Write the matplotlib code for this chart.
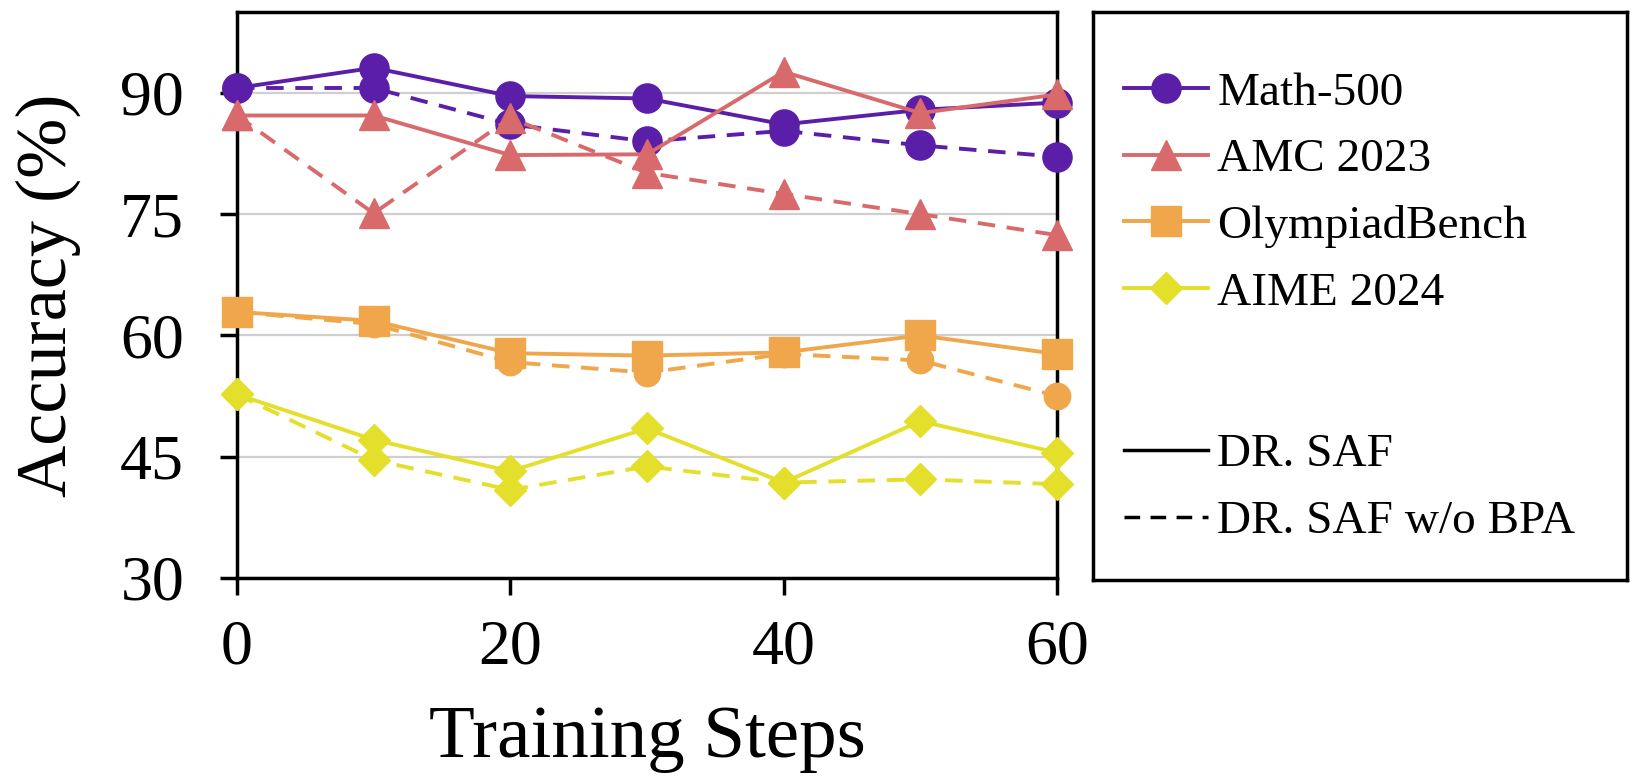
import matplotlib.pyplot as plt
from matplotlib.lines import Line2D

plt.rcParams['font.family'] = ['Liberation Serif', 'DejaVu Serif']

# Data
steps = [0, 10, 20, 30, 40, 50, 60]
datasets = ['Math-500', 'AMC 2023', 'OlympiadBench', 'AIME 2024']

math_saf = [90.6, 93.1, 89.6, 89.3, 86.1, 87.9, 88.8]
math_nobpa = [90.6, 90.6, 86.1, 84.0, 85.3, 83.5, 82.1]
amc_saf = [87.2, 87.2, 82.3, 82.4, 92.6, 87.5, 89.8]
amc_nobpa = [87.2, 75.1, 86.9, 80.1, 77.5, 75.0, 72.4]
olym_saf = [62.9, 61.8, 57.8, 57.5, 57.9, 60.0, 57.7]
olym_nobpa = [62.9, 61.4, 56.7, 55.4, 57.7, 56.9, 52.5]
aime_saf = [52.7, 47.1, 43.2, 48.5, 41.8, 49.4, 45.5]
aime_nobpa = [52.7, 44.6, 40.9, 43.8, 41.8, 42.2, 41.6]

saf = [math_saf, amc_saf, olym_saf, aime_saf]
nobpa = [math_nobpa, amc_nobpa, olym_nobpa, aime_nobpa]

colors = ['#5b1ea8', '#d86a6c', '#f0a64a', '#e3df2b']
markers = ['o', '^', 's', 'D']
marker_sizes = [21, 22, 21, 16]
nobpa_markers = ['o', '^', 'o', 'D']
nobpa_sizes = [21, 22, 19, 16]

fig = plt.figure(figsize=(16.32, 7.78), dpi=100)
ax = fig.add_axes([0.1452, 0.2571, 0.6477 - 0.1452, 0.9846 - 0.2571])

for i in range(len(datasets)):
    # dashed (w/o BPA) first, then solid on top
    ax.plot(steps, nobpa[i], color=colors[i], linestyle='--', dashes=(4.5, 3),
            linewidth=2.8, marker=nobpa_markers[i], markersize=nobpa_sizes[i],
            clip_on=False, zorder=3)
    ax.plot(steps, saf[i], color=colors[i], linestyle='-', linewidth=2.8,
            marker=markers[i], markersize=marker_sizes[i], clip_on=False, zorder=3)

ax.set_xlim(0, 60)
ax.set_ylim(30, 100)
ax.set_xticks([0, 20, 40, 60])
ax.set_yticks([30, 45, 60, 75, 90])
ax.grid(axis='y', color='#cfcfcf', linewidth=1.6)
ax.set_axisbelow(True)

for s in ax.spines.values():
    s.set_linewidth(2.5)
    s.set_color('black')

ax.tick_params(axis='both', direction='out', length=12, width=2.5, labelsize=46)
ax.tick_params(axis='x', pad=18)
ax.tick_params(axis='y', pad=26)

ax.set_xlabel('Training Steps', fontsize=54, labelpad=20)
ax.set_ylabel('Accuracy (%)', fontsize=52, labelpad=28)

# Legend in its own framed box
lax = fig.add_axes([1093 / 1632, 1 - 580 / 778, (1627 - 1093) / 1632, (580 - 12) / 778])
lax.set_xticks([])
lax.set_yticks([])
for s in lax.spines.values():
    s.set_linewidth(2.5)
    s.set_color('black')

handles = []
for i in range(len(datasets)):
    handles.append(Line2D([], [], color=colors[i], linewidth=2.8, marker=markers[i],
                          markersize=marker_sizes[i]))
handles.append(Line2D([], [], color='none'))
handles.append(Line2D([], [], color='black', linewidth=2.5))
handles.append(Line2D([], [], color='black', linewidth=2.5, linestyle='--', dashes=(4.5, 3)))
labels = datasets + [' ', 'DR. SAF', 'DR. SAF w/o BPA']

leg = lax.legend(handles, labels, loc='center left', bbox_to_anchor=(0, 0.48),
                 frameon=False, fontsize=34, borderaxespad=0, borderpad=0.66,
                 handlelength=1.77, handletextpad=0.2, labelspacing=0.5)
# taller spacer row between the two groups
leg.get_texts()[4].set_fontsize(56)

fig.savefig('out.png', dpi=100)
